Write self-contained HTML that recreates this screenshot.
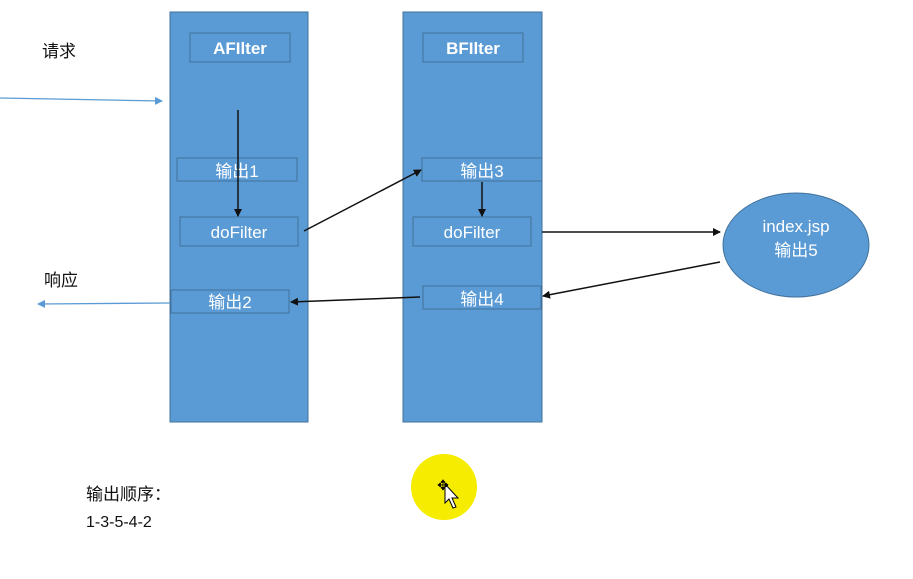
<!DOCTYPE html>
<html><head><meta charset="utf-8"><style>
body{margin:0;background:#fff;}
</style></head><body>
<svg width="913" height="579" xmlns="http://www.w3.org/2000/svg" style="display:block;font-family:'Liberation Sans','Noto Sans CJK SC',sans-serif">
<defs>
<marker id="ab" markerWidth="8" markerHeight="8" refX="7" refY="4" orient="auto" markerUnits="userSpaceOnUse"><path d="M0,0 L8,4 L0,8 z" fill="#111"/></marker>
<marker id="abl" markerWidth="8" markerHeight="8" refX="7" refY="4" orient="auto" markerUnits="userSpaceOnUse"><path d="M0,0 L8,4 L0,8 z" fill="#5b9bd5"/></marker>
</defs>
<rect x="170" y="12" width="138" height="410" fill="#5b9bd5" stroke="#41719c"/>
<rect x="403" y="12" width="139" height="410" fill="#5b9bd5" stroke="#41719c"/>
<g fill="#5b9bd5" stroke="#41719c">
<rect x="190" y="33" width="100" height="29"/>
<rect x="177" y="158" width="120" height="23"/>
<rect x="180" y="217" width="118" height="29"/>
<rect x="171" y="290" width="118" height="23"/>
<rect x="423" y="33" width="100" height="29"/>
<rect x="422" y="158" width="120" height="23"/>
<rect x="413" y="217" width="118" height="29"/>
<rect x="423" y="286" width="118" height="23"/>
</g>
<ellipse cx="796" cy="245" rx="73" ry="52" fill="#5b9bd5" stroke="#41719c"/>
<g fill="#fff" font-size="17" text-anchor="middle">
<text x="240" y="54" font-weight="bold">AFIlter</text>
<text x="473" y="54" font-weight="bold">BFIlter</text>
<text x="237" y="177">输出1</text>
<text x="239" y="238">doFilter</text>
<text x="230" y="308">输出2</text>
<text x="482" y="177">输出3</text>
<text x="472" y="238">doFilter</text>
<text x="482" y="305">输出4</text>
<text x="796" y="232">index.jsp</text>
<text x="796" y="256">输出5</text>
</g>
<g stroke="#111" stroke-width="1.5" fill="none">
<line x1="238" y1="110" x2="238" y2="216" marker-end="url(#ab)"/>
<line x1="304" y1="231" x2="421" y2="170" marker-end="url(#ab)"/>
<line x1="482" y1="182" x2="482" y2="216" marker-end="url(#ab)"/>
<line x1="542" y1="232" x2="720" y2="232" marker-end="url(#ab)"/>
<line x1="720" y1="262" x2="543" y2="296" marker-end="url(#ab)"/>
<line x1="420" y1="297" x2="291" y2="302" marker-end="url(#ab)"/>
</g>
<g stroke="#5b9bd5" stroke-width="1.3">
<line x1="0" y1="98" x2="162" y2="101" marker-end="url(#abl)"/>
<line x1="170" y1="303" x2="38" y2="304" marker-end="url(#abl)"/>
</g>
<g fill="#111" font-size="17">
<text x="42" y="57">请求</text>
<text x="44" y="286">响应</text>
<text x="86" y="500">输出顺序：</text>
<text x="86" y="527" font-size="16">1-3-5-4-2</text>
</g>
<circle cx="444" cy="487" r="33" fill="#f5ec00"/>
<path d="M445,484 L445,503 L449,499 L453,508 L456,507 L452,498 L458,498 z" fill="#fff" stroke="#000"/>
<text x="443" y="490" font-size="14" text-anchor="middle" fill="#000">✥</text>
</svg>
</body></html>
